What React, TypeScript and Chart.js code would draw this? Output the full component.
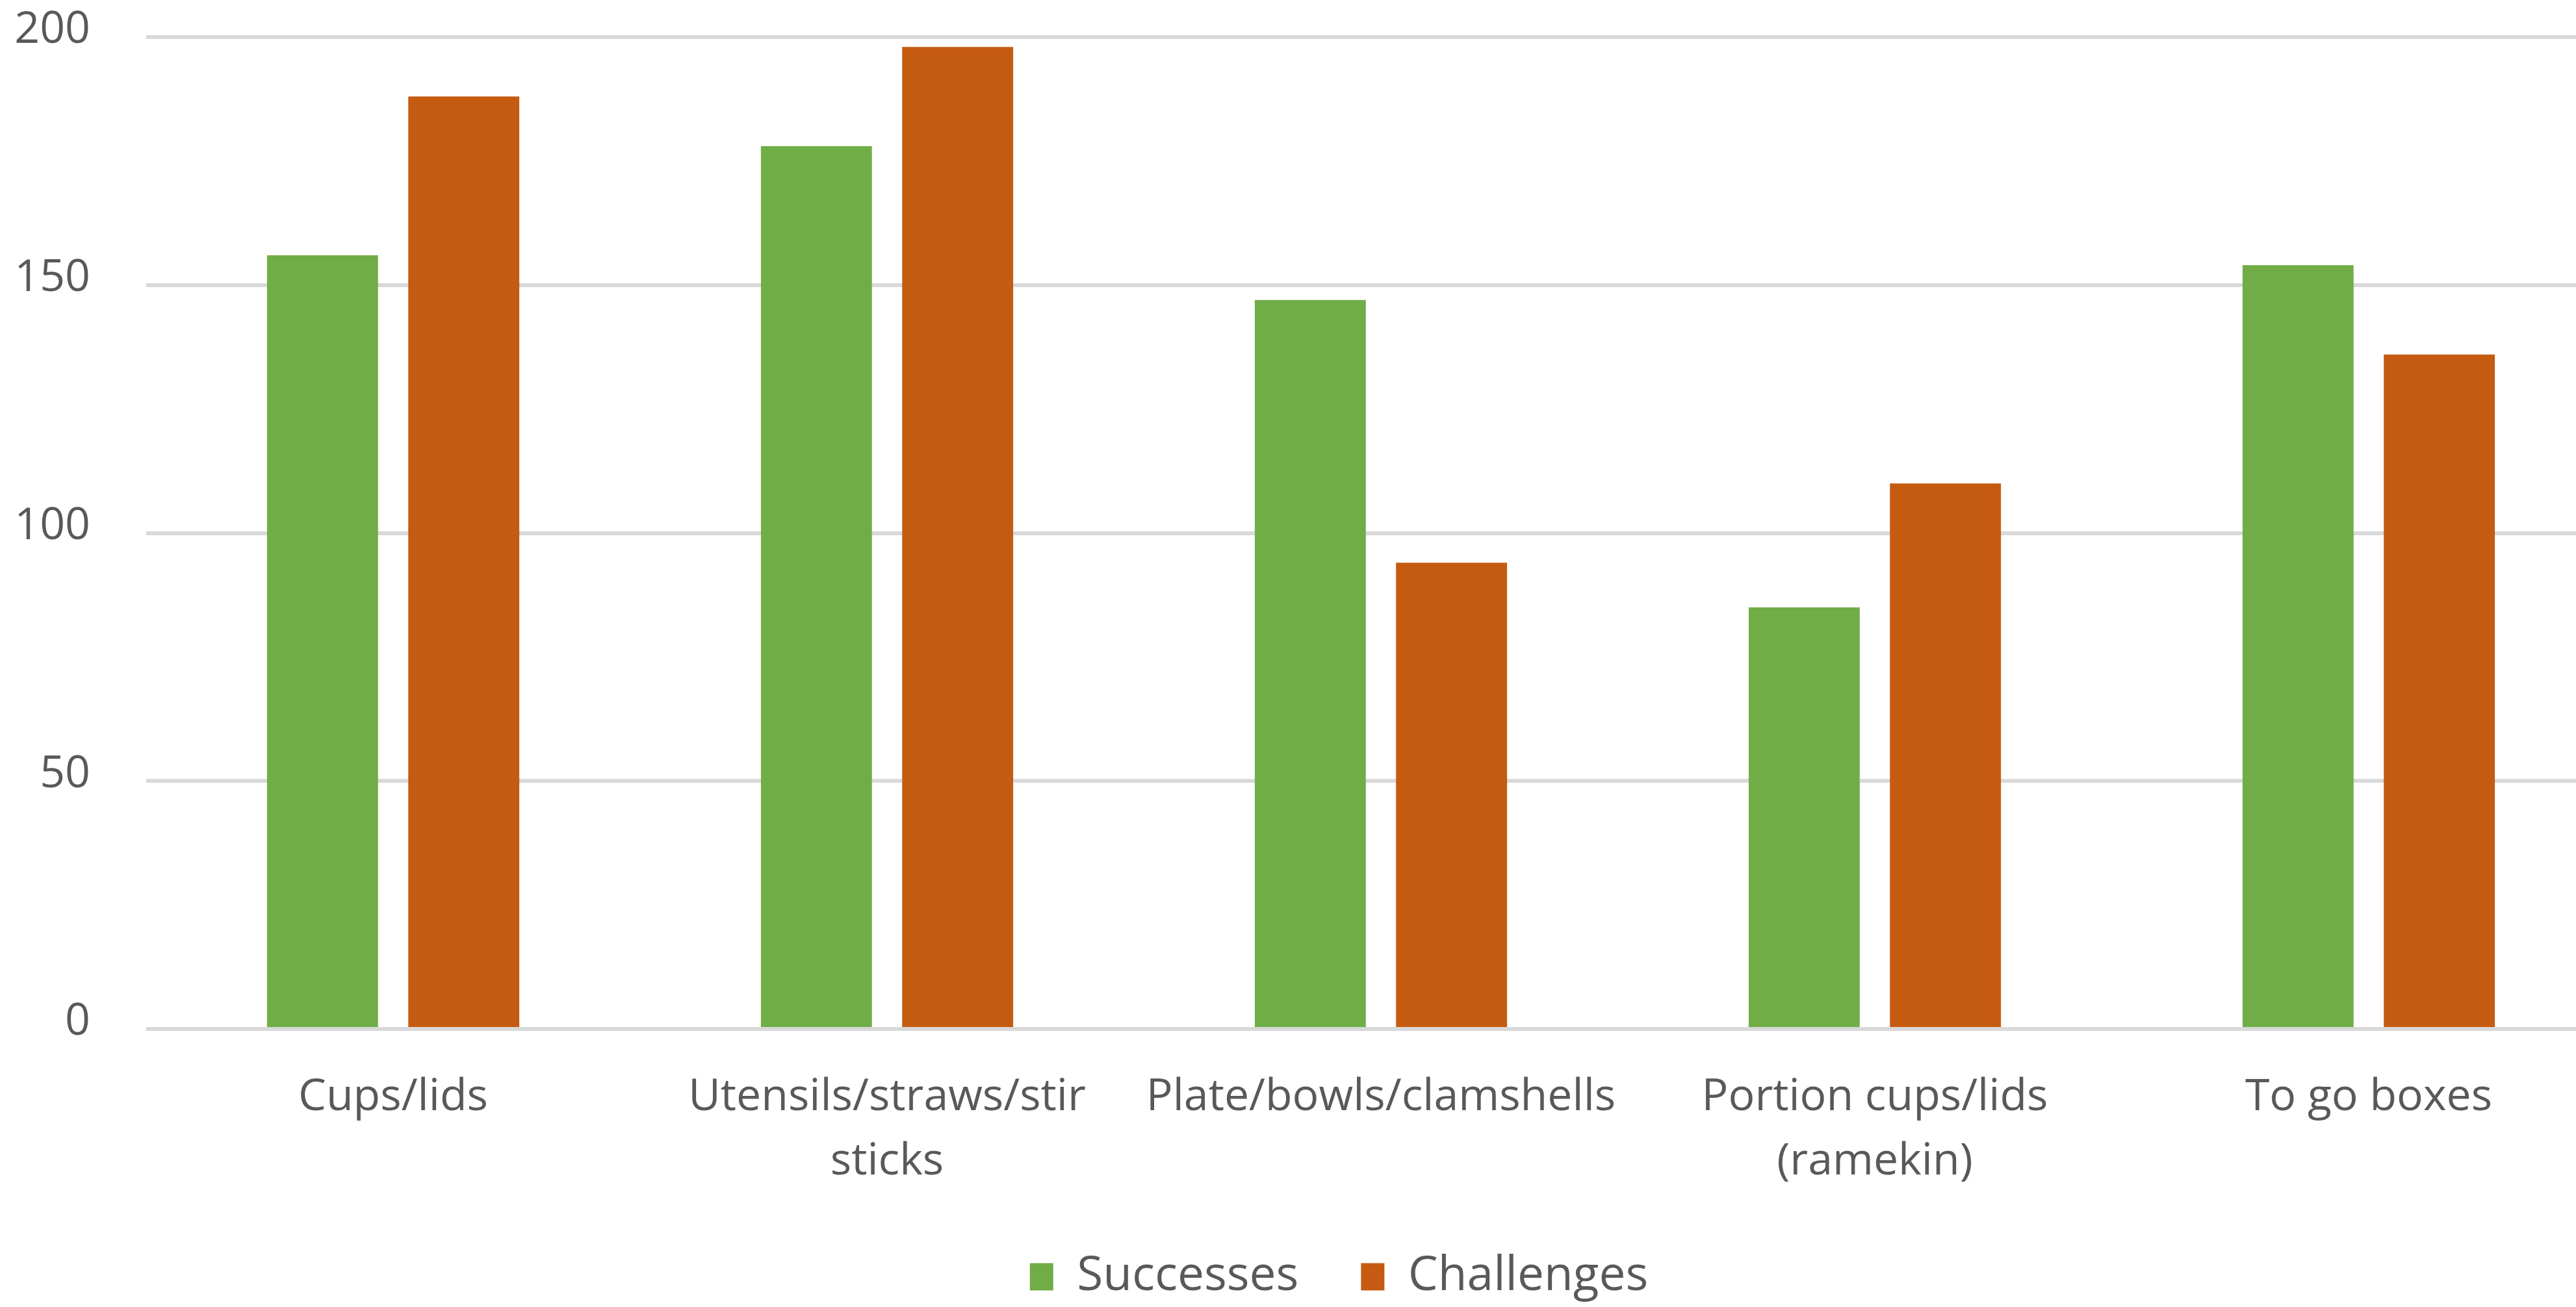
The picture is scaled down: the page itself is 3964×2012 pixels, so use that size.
import React, { useEffect, useRef } from "react";
import { Chart, registerables } from "chart.js";

Chart.register(...registerables);

const categories: (string | string[])[] = [
  "Cups/lids",
  ["Utensils/straws/stir", "sticks"],
  "Plate/bowls/clamshells",
  ["Portion cups/lids", "(ramekin)"],
  "To go boxes",
];
const seriesNames = ["Successes", "Challenges"];
const successes = [156, 178, 147, 85, 154];
const challenges = [188, 198, 94, 110, 136];
const yTickValues = [0, 50, 100, 150, 200];

const GREEN = "#70AD47";
const ORANGE = "#C55A11";
const TEXT = "#595959";
const FONT = "'Open Sans', 'Noto Sans', sans-serif";

// The plot area of the source runs past the right edge of the picture.
const EXTEND_RIGHT = 61;

const layoutTweaks = {
  id: "layoutTweaks",
  afterLayout(chart: any) {
    const l = chart.legend;
    if (l) {
      l.left -= 34;
      l.right -= 34;
    }
    const x = chart.scales.x;
    if (x) {
      x.right += EXTEND_RIGHT;
      x.width += EXTEND_RIGHT;
      x.configure();
    }
    chart.chartArea.right += EXTEND_RIGHT;
    chart.chartArea.width += EXTEND_RIGHT;
  },
};

export default function App() {
  const ref = useRef<HTMLCanvasElement | null>(null);
  useEffect(() => {
    document.body.style.margin = "0";
    const canvas = ref.current!;
    const chart = new Chart(canvas, {
      type: "bar",
      data: {
        labels: categories,
        datasets: [
          { label: seriesNames[0], data: successes, backgroundColor: GREEN, borderWidth: 0 },
          { label: seriesNames[1], data: challenges, backgroundColor: ORANGE, borderWidth: 0 },
        ],
      },
      plugins: [layoutTweaks],
      options: {
        animation: false,
        responsive: false,
        devicePixelRatio: 1,
        layout: { padding: { left: 22, right: 0, top: 57, bottom: 0 } },
        datasets: { bar: { categoryPercentage: 0.572, barPercentage: 0.786 } },
        scales: {
          x: {
            grid: { display: false, drawTicks: false },
            border: { display: false },
            afterFit: (scale: any) => {
              scale.height = 249;
            },
            ticks: {
              color: TEXT,
              font: { family: FONT, size: 68, lineHeight: 1.46 },
              padding: 56,
              maxRotation: 0,
              autoSkip: false,
            },
          },
          y: {
            min: 0,
            max: 200,
            afterBuildTicks: (axis: any) => {
              axis.ticks = yTickValues.map((v) => ({ value: v }));
            },
            afterFit: (scale: any) => {
              scale.width = 203;
              scale.paddingTop = 0;
              scale.paddingBottom = 0;
            },
            grid: { color: "#D9D9D9", lineWidth: 6, drawTicks: false },
            border: { display: false },
            ticks: {
              color: TEXT,
              font: { family: FONT, size: 68 },
              padding: 86,
              labelOffset: -10,
            },
          },
        },
        plugins: {
          legend: {
            position: "bottom",
            fullSize: false,
            labels: {
              color: TEXT,
              font: { family: FONT, size: 73 },
              boxWidth: 36,
              boxHeight: 42,
              padding: 96,
            },
          },
          tooltip: { enabled: false },
        },
      },
    });
    return () => chart.destroy();
  }, []);
  return (
    <canvas
      ref={ref}
      width={3964}
      height={2012}
      style={{ display: "block", width: 3964, height: 2012 }}
    />
  );
}
